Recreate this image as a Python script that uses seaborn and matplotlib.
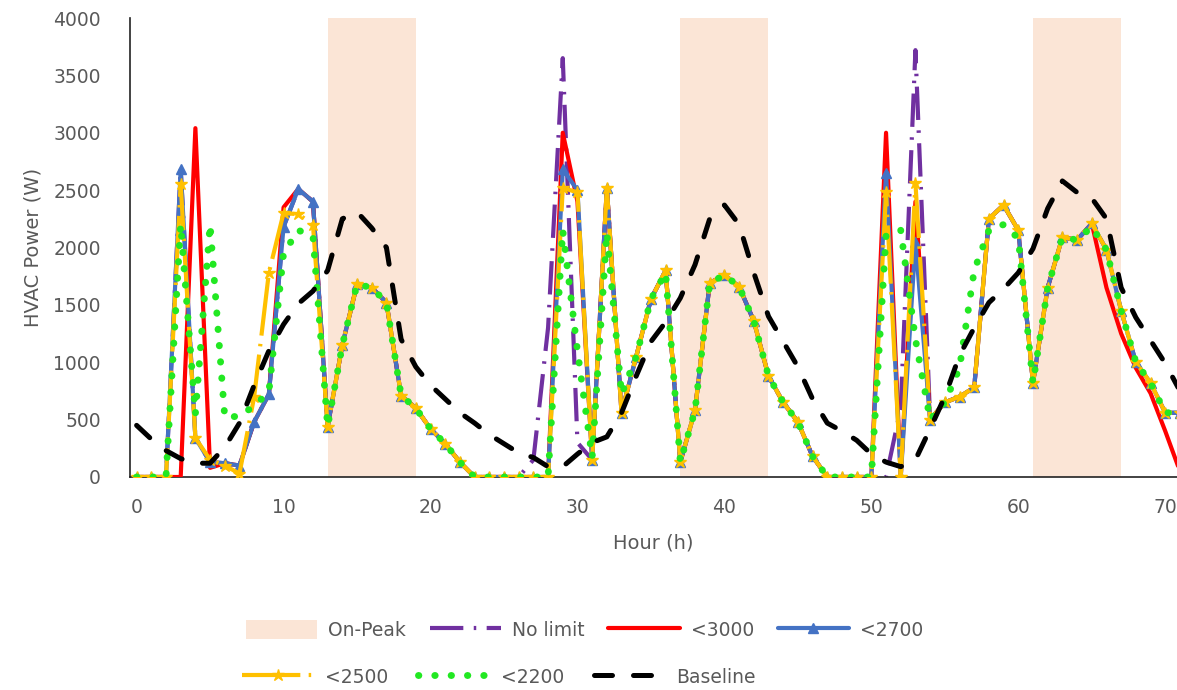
import numpy as np
import pandas as pd
import matplotlib
matplotlib.use("Agg")
import matplotlib.pyplot as plt
import seaborn as sns

# Hourly HVAC power (W) over three days
hours = list(range(72))

no_limit = [
    0, 0, 0, 2680, 340, 130, 120, 100, 480, 720, 2180, 2510,
    2400, 440, 1150, 1680, 1650, 1520, 710, 600, 420, 290, 130, 0,
    0, 0, 0, 150, 1300, 3650, 300, 150, 2520, 560, 1050, 1550,
    1800, 130, 580, 1690, 1760, 1660, 1360, 880, 650, 480, 180, 0,
    0, 0, 0, 0, 600, 3720, 500, 650, 700, 780, 2250, 2370,
    2150, 820, 1650, 2090, 2065, 2210, 1980, 1450, 1000, 820, 560, 560,
]
lim_3000 = [
    0, 0, 0, 0, 3040, 80, 120, 100, 480, 720, 2350, 2510,
    2400, 440, 1150, 1680, 1650, 1520, 710, 600, 420, 290, 130, 0,
    0, 0, 0, 0, 0, 3000, 2400, 150, 2520, 560, 1050, 1550,
    1800, 130, 580, 1690, 1760, 1660, 1360, 880, 650, 480, 180, 0,
    0, 0, 0, 3000, 0, 2400, 500, 650, 700, 780, 2250, 2370,
    2150, 820, 1650, 2090, 2065, 2210, 1650, 1250, 950, 730, 400, 50,
]
lim_2700 = [
    0, 0, 0, 2680, 340, 130, 120, 100, 480, 720, 2180, 2510,
    2400, 440, 1150, 1680, 1650, 1520, 710, 600, 420, 290, 130, 0,
    0, 0, 0, 0, 0, 2680, 2500, 150, 2520, 560, 1050, 1550,
    1800, 130, 580, 1690, 1760, 1660, 1360, 880, 650, 480, 180, 0,
    0, 0, 0, 2650, 0, 2050, 500, 650, 700, 780, 2250, 2370,
    2150, 820, 1650, 2090, 2065, 2210, 1980, 1450, 1000, 820, 560, 560,
]
lim_2500 = [
    0, 0, 0, 2550, 340, 150, 100, 30, 700, 1780, 2300, 2290,
    2200, 440, 1150, 1680, 1650, 1520, 710, 600, 420, 290, 130, 0,
    0, 0, 0, 0, 0, 2520, 2480, 150, 2520, 560, 1050, 1550,
    1800, 130, 580, 1690, 1760, 1660, 1360, 880, 650, 480, 180, 0,
    0, 0, 0, 2480, 0, 2560, 500, 650, 700, 780, 2250, 2370,
    2150, 820, 1650, 2090, 2065, 2210, 1980, 1450, 1000, 820, 560, 560,
]
lim_2200 = [
    0, 0, 0, 2200, 550, 2200, 520, 530, 620, 740, 1950, 2150,
    2100, 440, 1150, 1680, 1650, 1520, 710, 600, 420, 290, 130, 0,
    0, 0, 0, 0, 0, 2150, 1100, 170, 2130, 720, 1050, 1550,
    1780, 130, 580, 1690, 1760, 1660, 1360, 880, 650, 480, 180, 0,
    0, 0, 0, 2100, 2150, 1200, 500, 650, 950, 1800, 2150, 2200,
    2080, 820, 1650, 2090, 2065, 2180, 1980, 1450, 1000, 820, 560, 560,
]
baseline = [
    450, 330, 230, 160, 120, 120, 260, 470, 800, 1100, 1330, 1510,
    1620, 1800, 2250, 2310, 2170, 2000, 1200, 960, 800, 680, 560, 470,
    370, 290, 210, 170, 90, 90, 200, 300, 350, 560, 880, 1180,
    1350, 1560, 1850, 2250, 2370, 2200, 1780, 1400, 1180, 960, 680, 470,
    400, 320, 200, 130, 90, 150, 420, 700, 1060, 1300, 1520, 1640,
    1780, 1990, 2340, 2580, 2480, 2430, 2250, 1650, 1390, 1190, 990, 750,
]

# On-peak windows (h)
peak_start = [13, 37, 61]
peak_end = [19, 43, 67]

y_ticks = list(range(0, 4001, 500))
x_ticks = list(range(0, 71, 5))

df = pd.DataFrame({
    "hour": hours,
    "No limit": no_limit,
    "<3000": lim_3000,
    "<2700": lim_2700,
    "<2500": lim_2500,
    "<2200": lim_2200,
    "Baseline": baseline,
})

sns.set_theme(style="white")
plt.rcParams["font.family"] = ["DejaVu Sans"]
grey = "#595959"

fig = plt.figure(figsize=(11.77, 6.90), dpi=100)
ax = fig.add_axes([130 / 1177, 1 - 477 / 690, 1 - 130 / 1177, (477 - 18) / 690])

peak_patch = None
for s, e in zip(peak_start, peak_end):
    peak_patch = ax.axvspan(s, e, color="#FBE5D6", lw=0, zorder=0)

styles = {
    "No limit": dict(color="#7030A0", lw=3.0, linestyle=(0, (8, 2.5, 0.6, 2.5))),
    "<3000": dict(color="#FF0000", lw=3.0, linestyle="-"),
    "<2700": dict(color="#4472C4", lw=3.0, linestyle="-", marker="^",
                  markersize=7, markeredgecolor="#4472C4", markeredgewidth=1),
    "<2500": dict(color="#FFC000", lw=3.0, linestyle=(0, (14, 2.0, 0.6, 2.0)),
                  marker="*", markersize=9, markeredgecolor="#FFC000",
                  markeredgewidth=1),
    "<2200": dict(color="#22E822", lw=5.0, linestyle=(0, (0.05, 2.3)),
                  dash_capstyle="round"),
    "Baseline": dict(color="black", lw=3.6, linestyle=(0, (3.6, 4.2)),
                     dash_capstyle="round"),
}

handles = {}
for z, (name, kw) in enumerate(styles.items()):
    sns.lineplot(data=df, x="hour", y=name, ax=ax, zorder=2 + z, sort=False,
                 label=name, legend=False, **kw)
    handles[name] = ax.get_lines()[-1]

ax.set_xlim(-0.45, 70.8)
ax.set_ylim(0, 4000)
ax.set_yticks(y_ticks)
ax.set_xticks(x_ticks)
ax.set_xticklabels([str(t) if t % 10 == 0 else "" for t in x_ticks])

for side in ("top", "right"):
    ax.spines[side].set_visible(False)
for side in ("left", "bottom"):
    ax.spines[side].set_color("#222222")
    ax.spines[side].set_linewidth(1.2)
ax.tick_params(axis="both", which="major", direction="out", length=5,
               width=1.1, color="#222222", labelcolor=grey, labelsize=13.5)
ax.tick_params(axis="x", pad=10)
ax.tick_params(axis="y", pad=16)

ax.set_xlabel("Hour (h)", fontsize=14, color=grey, labelpad=12)
ax.set_ylabel("HVAC Power (W)", fontsize=14, color=grey, labelpad=8)

leg_kw = dict(frameon=False, fontsize=13.5, handlelength=3.8, handleheight=1.2,
              handletextpad=0.6, labelcolor=grey,
              borderpad=0, borderaxespad=0)
row1 = ["No limit", "<3000", "<2700"]
row2 = ["<2500", "<2200", "Baseline"]
leg1 = fig.legend([peak_patch] + [handles[n] for n in row1], ["On-Peak"] + row1,
                  loc="center left", bbox_to_anchor=(0.209, 0.087), ncol=4,
                  columnspacing=1.25, **leg_kw)
leg2 = fig.legend([handles[n] for n in row2], row2,
                  loc="center left", bbox_to_anchor=(0.206, 0.019), ncol=3,
                  columnspacing=1.6, **leg_kw)

fig.savefig("out.png", dpi=100)
